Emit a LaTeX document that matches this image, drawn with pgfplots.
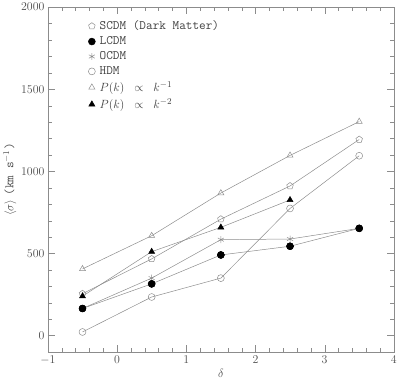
\documentclass[border=0pt]{standalone}
\usepackage{pgfplots}
\pgfplotsset{compat=1.18}
\usetikzlibrary{plotmarks}
\definecolor{ln}{gray}{0.55}
\begin{document}
\begin{tikzpicture}
\begin{axis}[
  scale only axis, width=348bp, height=347bp,
  xmin=-1, xmax=4, ymin=-100, ymax=2000,
  xtick={-1,0,...,4}, ytick={0,500,...,2000},
  minor x tick num=4, minor y tick num=4,
  /pgf/number format/1000 sep={},
  tick align=inside, axis line style={ln}, tick style={ln},
  major tick length=7bp, minor tick length=4bp,
  xlabel={$\delta$}, ylabel={$\langle\sigma\rangle$ \texttt{(km s$^{-1}$)}},
  every tick label/.append style={font=\fontsize{12}{14}\selectfont, text=black!70},
  label style={font=\fontsize{13}{15}\selectfont, text=black!70},
  xlabel style={yshift=2bp}, ylabel style={yshift=-2bp},
  legend style={at={(0.105,0.972)}, anchor=north west, draw=none, fill=none,
    font=\fontsize{13}{15}\selectfont\ttfamily, text=black!75, row sep=1.5bp},
  legend cell align=left,
  legend image code/.code={\draw[#1] plot coordinates {(0.15cm,0cm)}; \path (0cm,0cm) (0.35cm,0cm);},
  every axis plot/.append style={ln, line width=0.5pt, mark size=3.5pt},
]
\addplot[mark=pentagon, mark options={draw=ln, fill=white, solid}] coordinates {(-0.5,255) (0.5,467) (1.5,709) (2.5,911) (3.5,1194)};
\addlegendentry{SCDM (Dark Matter)}
\addplot[mark=*, mark options={draw=black, fill=black}] coordinates {(-0.5,165) (0.5,315) (1.5,491) (2.5,544) (3.5,653)};
\addlegendentry{LCDM}
\addplot[mark=asterisk, mark options={draw=ln}] coordinates {(-0.5,165) (0.5,350) (1.5,584) (2.5,588) (3.5,653)};
\addlegendentry{OCDM}
\addplot[mark=o, mark options={draw=ln, fill=white}] coordinates {(-0.5,22) (0.5,235) (1.5,350) (2.5,774) (3.5,1095)};
\addlegendentry{HDM}
\addplot[mark=triangle, mark options={draw=ln, fill=white}] coordinates {(-0.5,406) (0.5,608) (1.5,868) (2.5,1097) (3.5,1303)};
\addlegendentry{$P(k)\ \propto\ k^{-1}$}
\addplot[mark=triangle*, mark options={draw=black, fill=black}] coordinates {(-0.5,240) (0.5,511) (1.5,659) (2.5,826)};
\addlegendentry{$P(k)\ \propto\ k^{-2}$}
\addplot[forget plot, only marks, mark=*, mark options={draw=black, fill=black}] coordinates {(-0.5,165) (0.5,315) (1.5,491) (2.5,544) (3.5,653)};
\end{axis}
\end{tikzpicture}
\end{document}
